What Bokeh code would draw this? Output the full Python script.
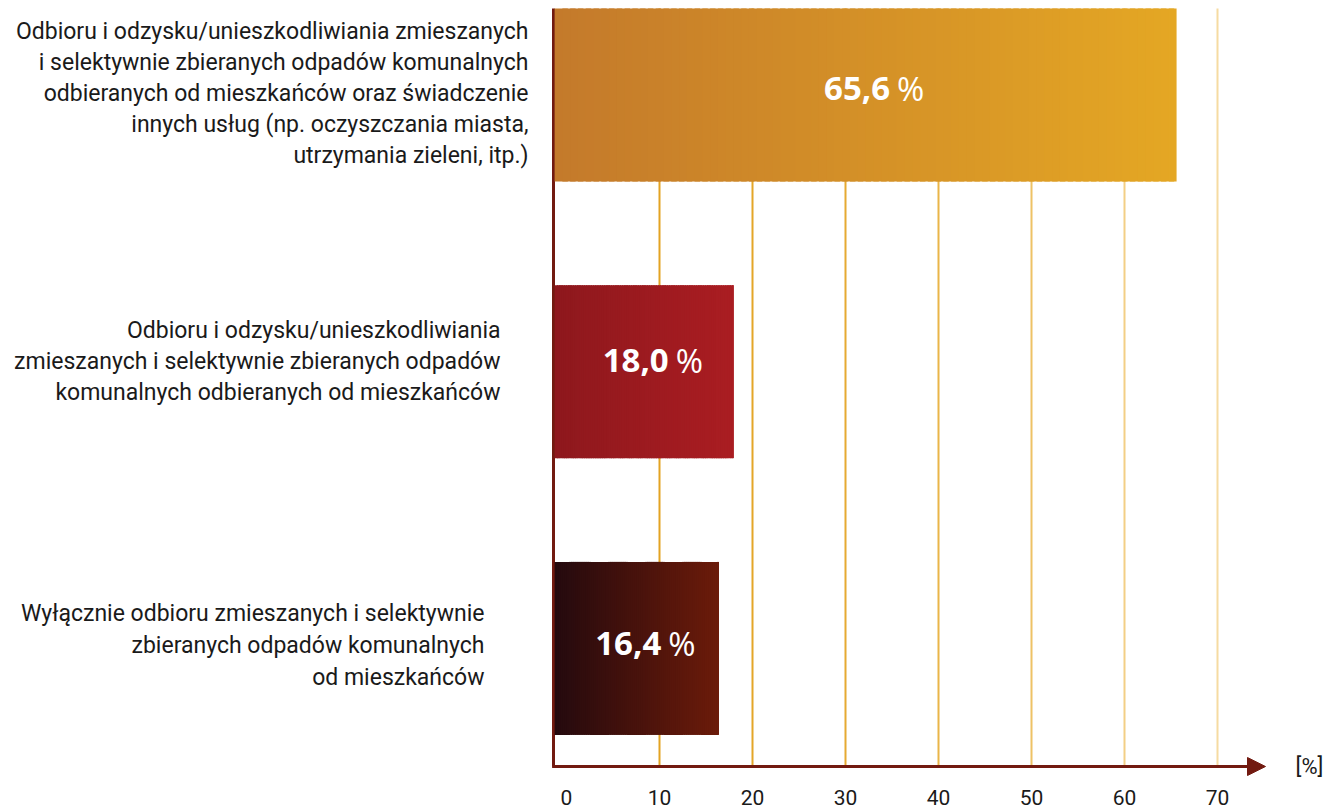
import numpy as np
from bokeh.plotting import figure
from bokeh.models import ColumnDataSource, Range1d, FixedTicker, Arrow, NormalHead
from bokeh.core.properties import value
from bokeh.embed import file_html
from bokeh.resources import INLINE

# ---------------- data ----------------
CATEGORIES = [
    "Odbioru i odzysku/unieszkodliwiania zmieszanych\n"
    "i selektywnie zbieranych odpadów komunalnych\n"
    "odbieranych od mieszkańców oraz świadczenie\n"
    "innych usług (np. oczyszczania miasta,\n"
    "utrzymania zieleni, itp.)",
    "Odbioru i odzysku/unieszkodliwiania\n"
    "zmieszanych i selektywnie zbieranych odpadów\n"
    "komunalnych odbieranych od mieszkańców",
    "Wyłącznie odbioru zmieszanych i selektywnie\n"
    "zbieranych odpadów komunalnych\n"
    "od mieszkańców",
]
VALUES = [65.6, 18.0, 16.4]
TICKS = [0, 10, 20, 30, 40, 50, 60, 70]
UNIT_LABEL = "[%]"

# ---------------- styles / layout ----------------
W, H = 1330, 812
BOTTOM_BORDER = 33
PX_PER_UNIT = 9.3
ZERO_PX = 566          # px of x=0
ROW_PX = 276.75        # px between rows
ROW0_PX = 647.9        # px (from top) of lowest row centre
BAR_H = 0.625
AXIS_X_PX = 553        # px of vertical axis line
AXIS_Y_PX = 766        # px of horizontal axis line
ARROW_TIP_PX = 1265
UNIT_PX = 1309
LABEL_RIGHT_OFFSETS = [-25, -53, -69]   # px from axis line
LABEL_DY = [-1, -10, -3]
VALUE_DY = [-6, -11, -5]
LINE_SPACING = [31.0, 31.3, 32.0]

BAR_COLORS = [("#C47A2B", "#E4A724"), ("#8E181D", "#AA1D22"), ("#250A0E", "#6B1B0A")]
GRID_COLORS = ["#E3A323", "#E4A628", "#E6AA32", "#EAB548", "#EEC265", "#F3CF85", "#F6DBA2"]
AXIS_COLOR = "#721A10"
TEXT_COLOR = "#1A1A1A"
LABEL_FONT = "Roboto"
VALUE_FONT = "Open Sans"

frame_h = H - BOTTOM_BORDER

def fx(px):
    return (px - ZERO_PX) / PX_PER_UNIT

def fy(py):
    return (ROW0_PX - py) / ROW_PX

p = figure(width=W, height=H, output_backend="svg", toolbar_location=None,
           x_range=Range1d(fx(0), fx(W)), y_range=Range1d(fy(frame_h), fy(0)),
           min_border_left=0, min_border_right=0, min_border_top=0,
           min_border_bottom=BOTTOM_BORDER)
p.outline_line_color = None
p.background_fill_color = "white"
p.border_fill_color = "white"
p.grid.visible = False
p.yaxis.visible = False

ax = p.xaxis[0]
ax.ticker = FixedTicker(ticks=TICKS)
ax.axis_line_color = None
ax.major_tick_line_color = None
ax.minor_tick_line_color = None
ax.major_label_text_font = LABEL_FONT
ax.major_label_text_font_size = "21px"
ax.major_label_text_color = TEXT_COLOR
ax.major_label_standoff = 4

n = len(VALUES)
rows = [n - 1 - i for i in range(n)]
axis_x = fx(AXIS_X_PX)
axis_y = fy(AXIS_Y_PX)
top_y = rows[0] + BAR_H / 2

# gridlines
gx = TICKS[1:]
p.segment(x0=gx, x1=gx, y0=[axis_y] * len(gx), y1=[top_y] * len(gx),
          line_color=GRID_COLORS[:len(gx)], line_width=2)

# vertical axis line
p.segment(x0=[axis_x], x1=[axis_x], y0=[axis_y], y1=[top_y], line_color=AXIS_COLOR, line_width=3)

# gradient bars
def hex2rgb(h):
    h = h.lstrip("#")
    return np.array([int(h[i:i + 2], 16) for i in (0, 2, 4)], dtype=float)

NS = 80
L, R, B, T, C = [], [], [], [], []
for v, r, (c0, c1) in zip(VALUES, rows, BAR_COLORS):
    a, b = hex2rgb(c0), hex2rgb(c1)
    x0 = axis_x + 0.12
    w = (v - x0) / NS
    for k in range(NS):
        t = k / (NS - 1)
        col = a + (b - a) * t
        L.append(x0 + k * w)
        R.append(min(x0 + (k + 1.7) * w, v))
        B.append(r - BAR_H / 2)
        T.append(r + BAR_H / 2)
        C.append("#%02x%02x%02x" % tuple(int(round(c)) for c in col))
p.quad(left=L, right=R, bottom=B, top=T, fill_color=C, line_color=None)

# value labels
centers = [(axis_x + v) / 2 for v in VALUES]
num_src = ColumnDataSource(dict(x=centers, y=rows, dy=VALUE_DY,
                                t=[("%.1f" % v).replace(".", ",") for v in VALUES],
                                pct=["%"] * n))
p.text(x="x", y="y", text="t", source=num_src, x_offset=25, y_offset="dy",
       text_align="right", text_baseline="middle", text_color="white",
       text_font=value(VALUE_FONT), text_font_style="bold", text_font_size="33px")
p.text(x="x", y="y", text="pct", source=num_src, x_offset=32, y_offset="dy",
       text_align="left", text_baseline="middle", text_color="white",
       text_font=value(VALUE_FONT), text_font_style="normal", text_font_size="33px")

# category labels (line by line, right aligned)
lx, ly, lt, lxo, lyo = [], [], [], [], []
for cat, r, xo, dy, ls in zip(CATEGORIES, rows, LABEL_RIGHT_OFFSETS, LABEL_DY, LINE_SPACING):
    lines = cat.split("\n")
    m = len(lines)
    for j, line in enumerate(lines):
        lx.append(axis_x)
        ly.append(r)
        lt.append(line)
        lxo.append(xo)
        lyo.append((j - (m - 1) / 2) * ls + dy)
lab_src = ColumnDataSource(dict(x=lx, y=ly, t=lt, xo=lxo, yo=lyo))
p.text(x="x", y="y", text="t", source=lab_src, x_offset="xo", y_offset="yo",
       text_align="right", text_baseline="middle", text_color=TEXT_COLOR,
       text_font=value(LABEL_FONT), text_font_size="23px")

# x axis arrow
p.add_layout(Arrow(x_start=axis_x - 0.15, y_start=axis_y, x_end=fx(ARROW_TIP_PX), y_end=axis_y,
                   line_color=AXIS_COLOR, line_width=3,
                   end=NormalHead(size=18, fill_color=AXIS_COLOR, line_color=AXIS_COLOR)))

unit_src = ColumnDataSource(dict(x=[fx(UNIT_PX)], y=[axis_y], t=[UNIT_LABEL]))
p.text(x="x", y="y", text="t", source=unit_src, text_align="center", text_baseline="middle",
       text_font=value(LABEL_FONT), text_font_size="22px", text_color=TEXT_COLOR)

open("out.html", "w").write(file_html(p, INLINE))
